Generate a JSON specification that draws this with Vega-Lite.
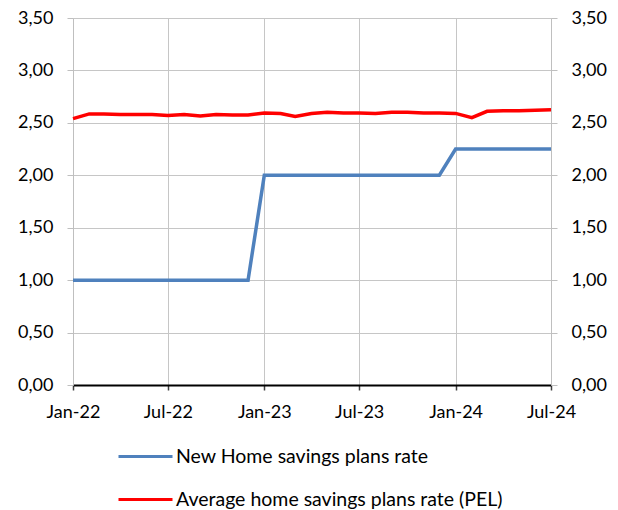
{
  "$schema": "https://vega.github.io/schema/vega-lite/v6.json",
  "width": 478,
  "height": 367,
  "autosize": {"type": "none"},
  "padding": {"left": 73, "top": 18, "right": 67, "bottom": 125},
  "background": "white",
  "config": {
    "font": "Lato",
    "view": {"stroke": null},
    "axis": {"labelFont": "Lato", "labelFontSize": 18, "labelColor": "#000000", "titleFont": "Lato"}
  },
  "data": {
    "values": [
      {"month": "2022-01-01", "series": "New Home savings plans rate", "value": 1.00},
      {"month": "2022-02-01", "series": "New Home savings plans rate", "value": 1.00},
      {"month": "2022-03-01", "series": "New Home savings plans rate", "value": 1.00},
      {"month": "2022-04-01", "series": "New Home savings plans rate", "value": 1.00},
      {"month": "2022-05-01", "series": "New Home savings plans rate", "value": 1.00},
      {"month": "2022-06-01", "series": "New Home savings plans rate", "value": 1.00},
      {"month": "2022-07-01", "series": "New Home savings plans rate", "value": 1.00},
      {"month": "2022-08-01", "series": "New Home savings plans rate", "value": 1.00},
      {"month": "2022-09-01", "series": "New Home savings plans rate", "value": 1.00},
      {"month": "2022-10-01", "series": "New Home savings plans rate", "value": 1.00},
      {"month": "2022-11-01", "series": "New Home savings plans rate", "value": 1.00},
      {"month": "2022-12-01", "series": "New Home savings plans rate", "value": 1.00},
      {"month": "2023-01-01", "series": "New Home savings plans rate", "value": 2.00},
      {"month": "2023-02-01", "series": "New Home savings plans rate", "value": 2.00},
      {"month": "2023-03-01", "series": "New Home savings plans rate", "value": 2.00},
      {"month": "2023-04-01", "series": "New Home savings plans rate", "value": 2.00},
      {"month": "2023-05-01", "series": "New Home savings plans rate", "value": 2.00},
      {"month": "2023-06-01", "series": "New Home savings plans rate", "value": 2.00},
      {"month": "2023-07-01", "series": "New Home savings plans rate", "value": 2.00},
      {"month": "2023-08-01", "series": "New Home savings plans rate", "value": 2.00},
      {"month": "2023-09-01", "series": "New Home savings plans rate", "value": 2.00},
      {"month": "2023-10-01", "series": "New Home savings plans rate", "value": 2.00},
      {"month": "2023-11-01", "series": "New Home savings plans rate", "value": 2.00},
      {"month": "2023-12-01", "series": "New Home savings plans rate", "value": 2.00},
      {"month": "2024-01-01", "series": "New Home savings plans rate", "value": 2.25},
      {"month": "2024-02-01", "series": "New Home savings plans rate", "value": 2.25},
      {"month": "2024-03-01", "series": "New Home savings plans rate", "value": 2.25},
      {"month": "2024-04-01", "series": "New Home savings plans rate", "value": 2.25},
      {"month": "2024-05-01", "series": "New Home savings plans rate", "value": 2.25},
      {"month": "2024-06-01", "series": "New Home savings plans rate", "value": 2.25},
      {"month": "2024-07-01", "series": "New Home savings plans rate", "value": 2.25},
      {"month": "2022-01-01", "series": "Average home savings plans rate (PEL)", "value": 2.54},
      {"month": "2022-02-01", "series": "Average home savings plans rate (PEL)", "value": 2.585},
      {"month": "2022-03-01", "series": "Average home savings plans rate (PEL)", "value": 2.585},
      {"month": "2022-04-01", "series": "Average home savings plans rate (PEL)", "value": 2.58},
      {"month": "2022-05-01", "series": "Average home savings plans rate (PEL)", "value": 2.58},
      {"month": "2022-06-01", "series": "Average home savings plans rate (PEL)", "value": 2.58},
      {"month": "2022-07-01", "series": "Average home savings plans rate (PEL)", "value": 2.57},
      {"month": "2022-08-01", "series": "Average home savings plans rate (PEL)", "value": 2.58},
      {"month": "2022-09-01", "series": "Average home savings plans rate (PEL)", "value": 2.565},
      {"month": "2022-10-01", "series": "Average home savings plans rate (PEL)", "value": 2.58},
      {"month": "2022-11-01", "series": "Average home savings plans rate (PEL)", "value": 2.575},
      {"month": "2022-12-01", "series": "Average home savings plans rate (PEL)", "value": 2.575},
      {"month": "2023-01-01", "series": "Average home savings plans rate (PEL)", "value": 2.595},
      {"month": "2023-02-01", "series": "Average home savings plans rate (PEL)", "value": 2.59},
      {"month": "2023-03-01", "series": "Average home savings plans rate (PEL)", "value": 2.56},
      {"month": "2023-04-01", "series": "Average home savings plans rate (PEL)", "value": 2.59},
      {"month": "2023-05-01", "series": "Average home savings plans rate (PEL)", "value": 2.60},
      {"month": "2023-06-01", "series": "Average home savings plans rate (PEL)", "value": 2.595},
      {"month": "2023-07-01", "series": "Average home savings plans rate (PEL)", "value": 2.595},
      {"month": "2023-08-01", "series": "Average home savings plans rate (PEL)", "value": 2.59},
      {"month": "2023-09-01", "series": "Average home savings plans rate (PEL)", "value": 2.60},
      {"month": "2023-10-01", "series": "Average home savings plans rate (PEL)", "value": 2.60},
      {"month": "2023-11-01", "series": "Average home savings plans rate (PEL)", "value": 2.595},
      {"month": "2023-12-01", "series": "Average home savings plans rate (PEL)", "value": 2.595},
      {"month": "2024-01-01", "series": "Average home savings plans rate (PEL)", "value": 2.59},
      {"month": "2024-02-01", "series": "Average home savings plans rate (PEL)", "value": 2.55},
      {"month": "2024-03-01", "series": "Average home savings plans rate (PEL)", "value": 2.61},
      {"month": "2024-04-01", "series": "Average home savings plans rate (PEL)", "value": 2.615},
      {"month": "2024-05-01", "series": "Average home savings plans rate (PEL)", "value": 2.615},
      {"month": "2024-06-01", "series": "Average home savings plans rate (PEL)", "value": 2.62},
      {"month": "2024-07-01", "series": "Average home savings plans rate (PEL)", "value": 2.625}
    ]
  },
  "encoding": {
    "x": {
      "field": "month",
      "type": "temporal",
      "scale": {
        "type": "utc",
        "domain": [
          {"year": 2022, "month": 1, "date": 1, "utc": true},
          {"year": 2024, "month": 7, "date": 1, "utc": true}
        ],
        "nice": false
      },
      "axis": {
        "title": null,
        "values": [
          {"year": 2022, "month": 1, "date": 1, "utc": true},
          {"year": 2022, "month": 7, "date": 1, "utc": true},
          {"year": 2023, "month": 1, "date": 1, "utc": true},
          {"year": 2023, "month": 7, "date": 1, "utc": true},
          {"year": 2024, "month": 1, "date": 1, "utc": true},
          {"year": 2024, "month": 7, "date": 1, "utc": true}
        ],
        "labelExpr": "utcFormat(datum.value, '%b-%y')",
        "grid": true,
        "gridColor": "#C6C6C6",
        "gridWidth": 1,
        "domainColor": "#000000",
        "domainWidth": 2,
        "tickColor": "#404040",
        "tickSize": 5,
        "tickWidth": 1.5,
        "labelPadding": 13,
        "labelFlush": false,
        "labelOverlap": false
      }
    },
    "color": {
      "field": "series",
      "type": "nominal",
      "scale": {
        "domain": ["New Home savings plans rate", "Average home savings plans rate (PEL)"],
        "range": ["#4F81BD", "#FF0000"]
      },
      "legend": {
        "title": null,
        "orient": "none",
        "direction": "vertical",
        "legendX": 44,
        "legendY": 410,
        "padding": 0,
        "symbolType": "stroke",
        "symbolSize": 2916,
        "symbolStrokeWidth": 3,
        "labelFont": "Lato",
        "labelFontSize": 19.5,
        "labelColor": "#000000",
        "labelOffset": 2,
        "rowPadding": 5,
        "labelLimit": 500
      }
    }
  },
  "layer": [
    {
      "transform": [{"filter": "datum.series === 'New Home savings plans rate'"}],
      "mark": {"type": "line", "strokeWidth": 3.5},
      "encoding": {
        "y": {
          "field": "value",
          "type": "quantitative",
          "scale": {"domain": [0, 3.5], "nice": false},
          "axis": {
            "title": null,
            "orient": "left",
            "values": [0, 0.5, 1, 1.5, 2, 2.5, 3, 3.5],
            "labelExpr": "replace(format(datum.value, '.2f'), '.', ',')",
            "grid": true,
            "gridColor": "#C6C6C6",
            "domainColor": "#BFBFBF",
            "tickColor": "#BFBFBF",
            "tickSize": 6,
            "labelPadding": 14
          }
        }
      }
    },
    {
      "transform": [{"filter": "datum.series === 'Average home savings plans rate (PEL)'"}],
      "mark": {"type": "line", "strokeWidth": 3.5},
      "encoding": {
        "y": {
          "field": "value",
          "type": "quantitative",
          "scale": {"domain": [0, 3.5], "nice": false},
          "axis": {
            "title": null,
            "orient": "right",
            "values": [0, 0.5, 1, 1.5, 2, 2.5, 3, 3.5],
            "labelExpr": "replace(format(datum.value, '.2f'), '.', ',')",
            "grid": false,
            "domainColor": "#BFBFBF",
            "tickColor": "#BFBFBF",
            "tickSize": 6,
            "labelPadding": 14
          }
        }
      }
    }
  ],
  "resolve": {"axis": {"y": "independent"}}
}
